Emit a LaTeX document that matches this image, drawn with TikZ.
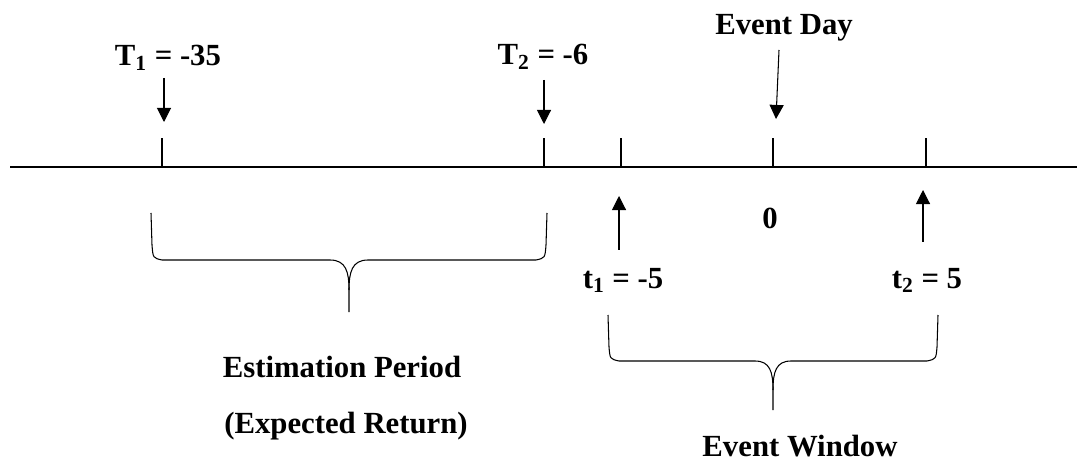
\documentclass[tikz,border=0pt]{standalone}
\usepackage{fontspec}
\setmainfont{Liberation Serif}
\usetikzlibrary{arrows.meta,positioning}

\tikzset{
  lbl/.style={font=\fontsize{17.5}{21}\selectfont\bfseries,inner sep=0pt,anchor=base},
  tick/.style={line width=0.6pt},
  pointer/.style={line width=0.6pt,-{Triangle[length=8pt,width=8pt]}},
  bracepath/.style={line width=0.6pt,line join=round}
}

\begin{document}
\begin{tikzpicture}[x=0.02cm,y=-0.02cm]
\useasboundingbox (0,0) rectangle (1077,462);
% axis
\coordinate (axl) at (10,167);
\coordinate (axr) at (1077,167);
\draw[line width=0.7pt] (axl)--(axr);
% ticks
\foreach \nm/\xx in {T1/162,T2/544,t1/621,ev/773,t2/926}
  \draw[tick] (\xx,167) coordinate (k\nm) -- (\xx,138) coordinate (top\nm);
% labels above
\node[lbl] (lT1) at (168,66) {T\textsubscript{1} = -35};
\node[lbl] (lT2) at (543,65) {T\textsubscript{2} = -6};
\node[lbl] (lev) at (784,35) {Event Day};
\coordinate (aT1s) at (164,78);  \coordinate (aT1e) at (164,122);
\coordinate (aT2s) at (544,80);  \coordinate (aT2e) at (544,124);
\coordinate (aevs) at (779,50);  \coordinate (aeve) at (776,119);
\draw[pointer] (aT1s)--(aT1e);
\draw[pointer] (aT2s)--(aT2e);
\draw[pointer] (aevs)--(aeve);
% labels below
\node[lbl] (lzero) at (770,229) {0};
\node[lbl] (lt1) at (623,288) {t\textsubscript{1} = -5};
\node[lbl] (lt2) at (927,288) {t\textsubscript{2} = 5};
\coordinate (at1s) at (619,250); \coordinate (at1e) at (619,196);
\coordinate (at2s) at (923,242); \coordinate (at2e) at (923,190);
\draw[pointer] (at1s)--(at1e);
\draw[pointer] (at2s)--(at2e);
% estimation period brace
\draw[bracepath] (151,213) -- (152,245) .. controls (153,258) .. (162,260)
  -- (330,260) .. controls (346,260) and (349,272) .. (349,290) -- (349,312);
\draw[bracepath] (547,213) -- (546,245) .. controls (545,258) .. (536,260)
  -- (368,260) .. controls (352,260) and (349,272) .. (349,290);
\node[lbl] (lest) at (342,377) {Estimation Period};
\node[lbl] (lexp) at (346,433) {(Expected Return)};
% event window brace
\draw[bracepath] (608,315) -- (609,347) .. controls (610,359) .. (619,361)
  -- (755,361) .. controls (770,361) and (773,372) .. (773,390) -- (773,410);
\draw[bracepath] (938,315) -- (937,347) .. controls (936,359) .. (927,361)
  -- (791,361) .. controls (776,361) and (773,372) .. (773,390);
\node[lbl] (lwin) at (800,456) {Event Window};
\end{tikzpicture}
\end{document}
